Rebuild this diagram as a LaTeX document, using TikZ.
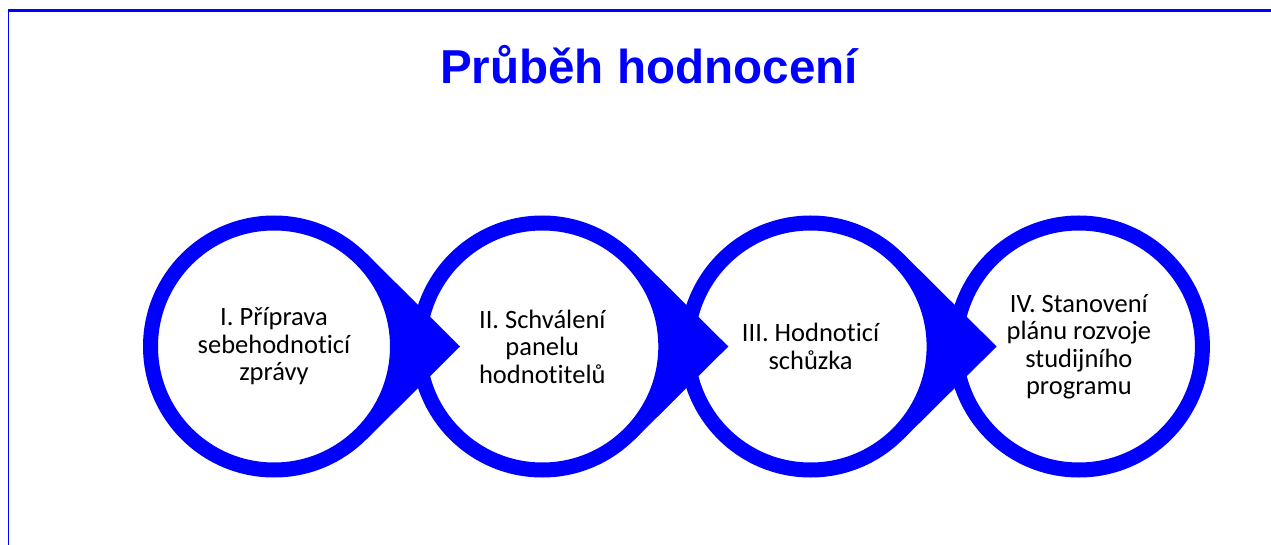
\documentclass[tikz,border=0pt]{standalone}
\usepackage{fontspec}
\setmainfont{Carlito}[Ligatures=NoCommon]
\newfontfamily\titlefont{Liberation Sans}
\usetikzlibrary{positioning,calc}
\definecolor{ringblue}{RGB}{0,0,255}

\begin{document}
\begin{tikzpicture}[x=1pt, y=1pt, node distance=268.3pt]
  % Define styles
  \tikzstyle{stage} = [circle, draw=ringblue, fill=white, line width=15pt, minimum size=247pt, inner sep=0pt, align=center, font=\fontsize{26.5}{27.5}\selectfont]
  \tikzstyle{pointer} = [fill=ringblue]
  \tikzstyle{heading} = [font=\titlefont\bfseries\fontsize{47.6}{55}\selectfont, text=ringblue, anchor=base]

  \useasboundingbox (0,0) rectangle (1271,544);
  \clip (0,0) rectangle (1271,544);

  % Frame
  \draw [ringblue, line width=1.5pt] (8.5,-20) -- (8.5,533.5);
  \draw [ringblue, line width=2.5pt] (7.75,533.5) -- (1300,533.5);

  % Title
  \node [heading] (title) at (649,460) {Průběh hodnocení};

  % Stages
  \node [stage] (s1) at (274,197.5) {I. Příprava\\sebehodnoticí\\zprávy};
  \node [stage, right of=s1] (s2) {II. Schválení\\panelu\\hodnotitelů};
  \node [stage, right of=s2] (s3) {III. Hodnoticí\\schůzka};
  \node [stage, right of=s3] (s4) {IV. Stanovení\\plánu rozvoje\\studijního\\programu};

  % Pointers into the next stage
  \foreach \s in {s1,s2,s3} {
    \fill [pointer] (\s.45) -- ($(\s.center)+(186,0)$) -- (\s.-45)
      -- ($(\s.center)+(-45:124)$) arc[start angle=-45, end angle=45, radius=124pt] -- cycle;
  }
\end{tikzpicture}
\end{document}
